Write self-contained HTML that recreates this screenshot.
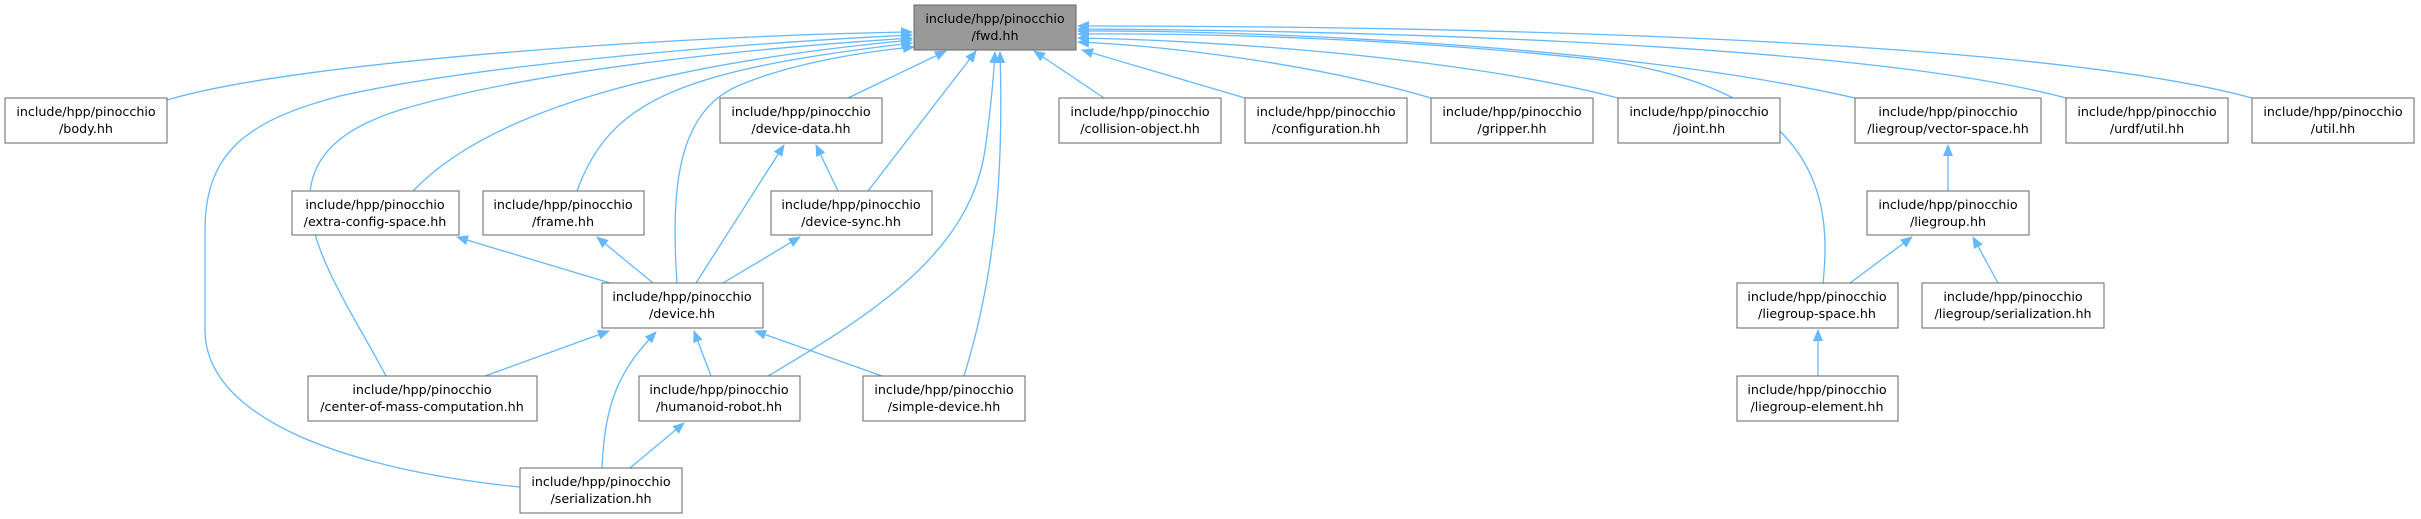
<!DOCTYPE html>
<html><head><meta charset="utf-8"><style>
html,body{margin:0;padding:0;background:#fff;}
svg{display:block;}
text{font-family:"DejaVu Sans","Liberation Sans",sans-serif;font-size:12.7px;fill:#000;text-anchor:middle;}
.b{fill:#fff;stroke:#666;stroke-width:1;}
.e{fill:none;stroke:#63b8ff;stroke-width:1.3;}
</style></head><body>
<svg width="2421" height="519" viewBox="0 0 2421 519" xmlns="http://www.w3.org/2000/svg">
<defs><marker id="a" markerWidth="12" markerHeight="10" refX="11" refY="5" orient="auto" markerUnits="userSpaceOnUse"><path d="M0,0 L12,5 L0,10 z" fill="#63b8ff"/></marker></defs>
<g class="e" marker-end="url(#a)">
<path d="M167,100 C300,60 700,35 912,32"/>
<path d="M520,487 C350,470 205,420 205,330 L205,230 C205,150 250,120 340,96 C500,60 800,40 912,35"/>
<path d="M386,376 C330,270 240,160 400,110 C550,65 800,45 912,38"/>
<path d="M413,191 C500,100 700,60 912,40"/>
<path d="M577,191 C610,100 680,70 912,43"/>
<path d="M677,283 C670,180 680,110 740,85 C800,60 880,50 914,47"/>
<path d="M848,98 L946,51"/>
<path d="M868,191 L976,51"/>
<path d="M768,376 C880,310 970,250 985,150 C992,100 994,70 995,52"/>
<path d="M964,376 C1000,260 1003,150 1000,52"/>
<path d="M1104,98 L1034,51"/>
<path d="M1245,98 L1082,50"/>
<path d="M1431,98 C1300,60 1150,45 1078,42"/>
<path d="M1618,98 C1450,55 1200,40 1078,38"/>
<path d="M1823,283 C1832,200 1820,90 1600,60 C1400,38 1200,33 1078,34"/>
<path d="M1855,98 C1600,40 1200,30 1078,31"/>
<path d="M2066,98 C1850,40 1300,30 1078,29"/>
<path d="M2252,98 C2000,30 1300,26 1078,26"/>
<path d="M696,283 L784,145"/>
<path d="M838,191 L816,145"/>
<path d="M610,283 L457,237"/>
<path d="M653,283 L597,237"/>
<path d="M723,283 L800,237"/>
<path d="M485,376 L609,331"/>
<path d="M711,376 L694,331"/>
<path d="M882,376 L755,331"/>
<path d="M602,468 C605,400 620,370 656,332"/>
<path d="M630,468 L684,423"/>
<path d="M1948,191 L1948,145"/>
<path d="M1850,283 L1912,237"/>
<path d="M1998,283 L1973,237"/>
<path d="M1818,376 L1818,330"/>
</g>
<rect x="914" y="5" width="162" height="45" fill="#999" stroke="#666"/>
<text x="995" y="23">include/hpp/pinocchio</text><text x="995" y="40">/fwd.hh</text>
<g>
<rect class="b" x="5" y="98" width="162" height="45"/><text x="86" y="116">include/hpp/pinocchio</text><text x="86" y="133">/body.hh</text>
<rect class="b" x="720" y="98" width="162" height="45"/><text x="801" y="116">include/hpp/pinocchio</text><text x="801" y="133">/device-data.hh</text>
<rect class="b" x="1059" y="98" width="162" height="45"/><text x="1140" y="116">include/hpp/pinocchio</text><text x="1140" y="133">/collision-object.hh</text>
<rect class="b" x="1245" y="98" width="162" height="45"/><text x="1326" y="116">include/hpp/pinocchio</text><text x="1326" y="133">/configuration.hh</text>
<rect class="b" x="1431" y="98" width="162" height="45"/><text x="1512" y="116">include/hpp/pinocchio</text><text x="1512" y="133">/gripper.hh</text>
<rect class="b" x="1618" y="98" width="162" height="45"/><text x="1699" y="116">include/hpp/pinocchio</text><text x="1699" y="133">/joint.hh</text>
<rect class="b" x="1855" y="98" width="186" height="45"/><text x="1948" y="116">include/hpp/pinocchio</text><text x="1948" y="133">/liegroup/vector-space.hh</text>
<rect class="b" x="2066" y="98" width="162" height="45"/><text x="2147" y="116">include/hpp/pinocchio</text><text x="2147" y="133">/urdf/util.hh</text>
<rect class="b" x="2252" y="98" width="162" height="45"/><text x="2333" y="116">include/hpp/pinocchio</text><text x="2333" y="133">/util.hh</text>
<rect class="b" x="292" y="191" width="167" height="44"/><text x="375" y="209">include/hpp/pinocchio</text><text x="375" y="226">/extra-config-space.hh</text>
<rect class="b" x="483" y="191" width="161" height="44"/><text x="563" y="209">include/hpp/pinocchio</text><text x="563" y="226">/frame.hh</text>
<rect class="b" x="771" y="191" width="161" height="44"/><text x="851" y="209">include/hpp/pinocchio</text><text x="851" y="226">/device-sync.hh</text>
<rect class="b" x="1867" y="191" width="162" height="44"/><text x="1948" y="209">include/hpp/pinocchio</text><text x="1948" y="226">/liegroup.hh</text>
<rect class="b" x="602" y="283" width="161" height="45"/><text x="682" y="301">include/hpp/pinocchio</text><text x="682" y="318">/device.hh</text>
<rect class="b" x="1737" y="283" width="161" height="45"/><text x="1817" y="301">include/hpp/pinocchio</text><text x="1817" y="318">/liegroup-space.hh</text>
<rect class="b" x="1922" y="283" width="182" height="45"/><text x="2013" y="301">include/hpp/pinocchio</text><text x="2013" y="318">/liegroup/serialization.hh</text>
<rect class="b" x="308" y="376" width="229" height="45"/><text x="422" y="394">include/hpp/pinocchio</text><text x="422" y="411">/center-of-mass-computation.hh</text>
<rect class="b" x="639" y="376" width="161" height="45"/><text x="719" y="394">include/hpp/pinocchio</text><text x="719" y="411">/humanoid-robot.hh</text>
<rect class="b" x="863" y="376" width="162" height="45"/><text x="944" y="394">include/hpp/pinocchio</text><text x="944" y="411">/simple-device.hh</text>
<rect class="b" x="1737" y="376" width="161" height="45"/><text x="1817" y="394">include/hpp/pinocchio</text><text x="1817" y="411">/liegroup-element.hh</text>
<rect class="b" x="520" y="468" width="162" height="45"/><text x="601" y="486">include/hpp/pinocchio</text><text x="601" y="503">/serialization.hh</text>
</g>
</svg>
</body></html>
